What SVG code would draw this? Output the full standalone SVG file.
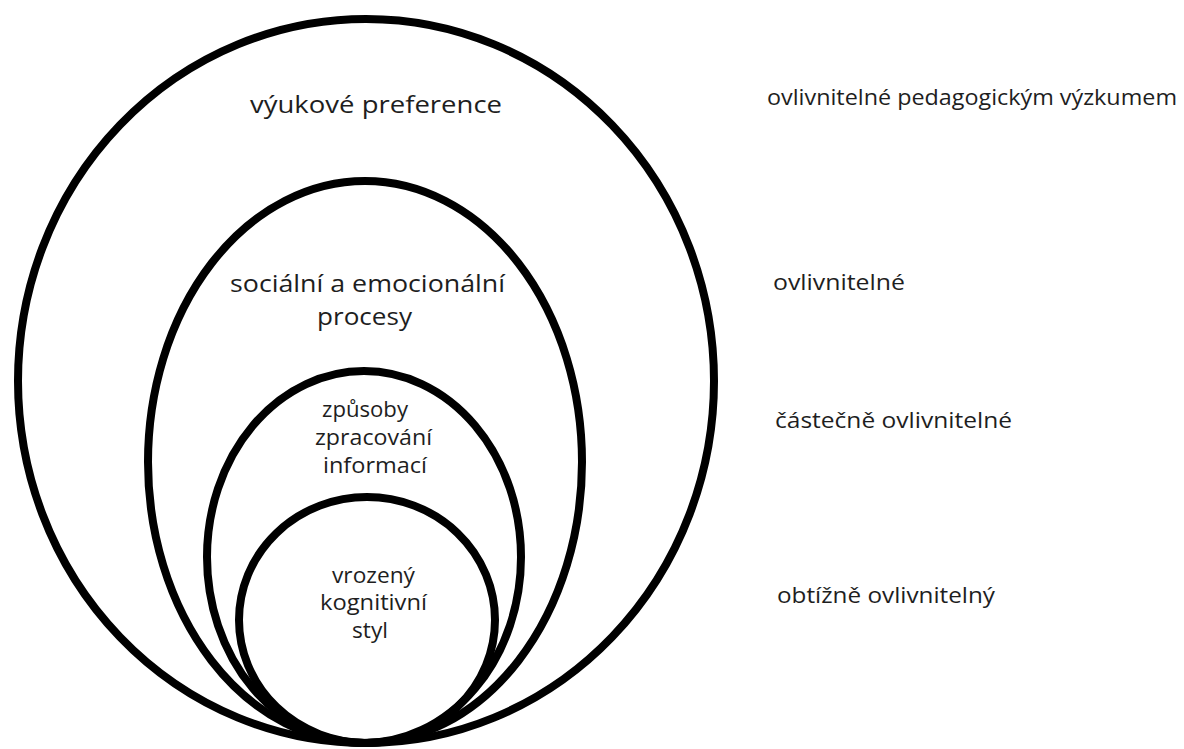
<svg xmlns="http://www.w3.org/2000/svg" width="1184" height="749" viewBox="0 0 1184 749">
<style>
.ring{fill:none;stroke:#000;stroke-width:8}
.t{font-family:"Open Sans","Noto Sans","DejaVu Sans",sans-serif;fill:#1e1e1e}
.c{text-anchor:middle}
</style>
<rect width="1184" height="749" fill="#fff"/>
<g id="ring-outer">
<ellipse class="ring" cx="366" cy="381" rx="348" ry="362"/>
<text class="t" x="250" y="113" font-size="24" textLength="252" lengthAdjust="spacingAndGlyphs">výukové preference</text>
</g>
<g id="ring-social">
<ellipse class="ring" cx="365" cy="462" rx="217" ry="281"/>
<text class="t" x="230" y="292" font-size="24" textLength="275" lengthAdjust="spacingAndGlyphs">sociální a emocionální</text>
<text class="t" x="317" y="325" font-size="24" textLength="95" lengthAdjust="spacingAndGlyphs">procesy</text>
</g>
<g id="ring-processing">
<ellipse class="ring" cx="364" cy="557" rx="157" ry="186"/>
<text class="t" x="322" y="417" font-size="21" textLength="86" lengthAdjust="spacingAndGlyphs">způsoby</text>
<text class="t" x="315" y="445" font-size="21" textLength="117" lengthAdjust="spacingAndGlyphs">zpracování</text>
<text class="t" x="323" y="473" font-size="21" textLength="104" lengthAdjust="spacingAndGlyphs">informací</text>
</g>
<g id="ring-innate">
<ellipse class="ring" cx="367" cy="620" rx="128" ry="123"/>
<text class="t" x="332" y="583" font-size="21" textLength="83" lengthAdjust="spacingAndGlyphs">vrozený</text>
<text class="t" x="320" y="610" font-size="21" textLength="107" lengthAdjust="spacingAndGlyphs">kognitivní</text>
<text class="t" x="352" y="638" font-size="21" textLength="36" lengthAdjust="spacingAndGlyphs">styl</text>
</g>
<g id="labels">
<text class="t" x="767" y="105" font-size="21" textLength="410" lengthAdjust="spacingAndGlyphs">ovlivnitelné pedagogickým výzkumem</text>
<text class="t" x="773" y="290" font-size="21" textLength="132" lengthAdjust="spacingAndGlyphs">ovlivnitelné</text>
<text class="t" x="775" y="428" font-size="21" textLength="237" lengthAdjust="spacingAndGlyphs">částečně ovlivnitelné</text>
<text class="t" x="777" y="603" font-size="21" textLength="218" lengthAdjust="spacingAndGlyphs">obtížně ovlivnitelný</text>
</g>
<g id="connectors"/>
</svg>
